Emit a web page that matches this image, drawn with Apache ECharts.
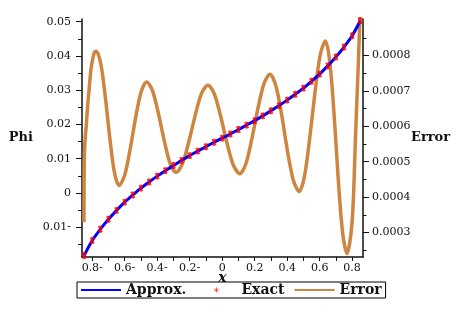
<!DOCTYPE html>
<html><head><meta charset="utf-8">
<script src="https://cdn.jsdelivr.net/npm/echarts@6/dist/echarts.min.js"></script>
<style>html,body{margin:0;padding:0;background:#fff}#c{width:468px;height:315px}</style>
</head><body><div id="c"></div>
<script>
// ---- data ----
const xValues = [-0.85,-0.80,-0.75,-0.70,-0.65,-0.60,-0.55,-0.50,-0.45,-0.40,-0.35,-0.30,-0.25,-0.20,-0.15,-0.10,-0.05,0,
  0.05,0.10,0.15,0.20,0.25,0.30,0.35,0.40,0.45,0.50,0.55,0.60,0.65,0.70,0.75,0.80,0.85];
const phiApprox = [-0.0183,-0.0139,-0.0106,-0.0077,-0.0051,-0.0027,-0.0006,0.0014,0.0032,0.0049,0.0065,0.0080,0.0095,0.0109,0.0122,0.0135,0.0148,0.0160,
  0.0172,0.0185,0.0198,0.0211,0.0225,0.0240,0.0255,0.0271,0.0288,0.0306,0.0326,0.0347,0.0371,0.0397,0.0426,0.0459,0.0503];
const phiExact = [-0.0183,-0.0139,-0.0106,-0.0077,-0.0051,-0.0027,-0.0006,0.0014,0.0032,0.0049,0.0065,0.0080,0.0095,0.0109,0.0122,0.0135,0.0148,0.0160,
  0.0172,0.0185,0.0198,0.0211,0.0225,0.0240,0.0255,0.0271,0.0288,0.0306,0.0326,0.0347,0.0371,0.0397,0.0426,0.0459,0.0503];
const errorX = [-0.851,-0.85,-0.848,-0.843,-0.837,-0.828,-0.82,-0.808,-0.795,-0.785,-0.775,
  -0.747,-0.719,-0.691,-0.663,-0.635,
  -0.601,-0.567,-0.533,-0.499,-0.465,
  -0.429,-0.393,-0.356,-0.320,-0.284,
  -0.245,-0.206,-0.166,-0.127,-0.088,
  -0.049,-0.010,0.030,0.069,0.108,
  0.145,0.182,0.220,0.257,0.294,
  0.330,0.366,0.402,0.438,0.474,
  0.506,0.538,0.571,0.603,0.635,
  0.662,0.689,0.715,0.742,0.769,
  0.785,0.80,0.81,0.82,0.83,0.84,0.85];
const errorY = [0.00033,0.00045,0.00052,0.00057,0.0006,0.00066,0.0007,0.00076,0.000795,0.00081,0.000812,
  0.000776,0.000681,0.000564,0.000469,0.000433,
  0.000461,0.000534,0.000624,0.000697,0.000725,
  0.000701,0.000637,0.000558,0.000494,0.00047,
  0.000494,0.000555,0.000631,0.000693,0.000716,
  0.000692,0.00063,0.000552,0.00049,0.000466,
  0.000493,0.000563,0.00065,0.00072,0.000747,
  0.000715,0.000633,0.00053,0.000448,0.000416,
  0.000457,0.000563,0.000694,0.0008,0.000841,
  0.000784,0.000634,0.000448,0.000298,0.000241,
  0.00027,0.00033,0.00042,0.00056,0.00068,0.0008,0.00094];

const xTicks = [-0.8,-0.7,-0.6,-0.5,-0.4,-0.3,-0.2,-0.1,0,0.1,0.2,0.3,0.4,0.5,0.6,0.7,0.8];
const xLabelValues = [-0.8,-0.6,-0.4,-0.2,0,0.2,0.4,0.6,0.8];
const xLabels = ['0.8-','0.6-','0.4-','0.2-','0','0.2','0.4','0.6','0.8'];
const phiTicks = [-0.01,0,0.01,0.02,0.03,0.04,0.05];
const phiLabels = ['0.01-','0','0.01','0.02','0.03','0.04','0.05'];
const phiMinorTicks = [-0.015,-0.005,0.005,0.015,0.025,0.035,0.045];
const errTicks = [0.0003,0.0004,0.0005,0.0006,0.0007,0.0008];
const errLabels = ['0.0003','0.0004','0.0005','0.0006','0.0007','0.0008'];
const errMinorTicks = [0.00025,0.00035,0.00045,0.00055,0.00065,0.00075,0.00085];

// ---- chart ----
function lab(values, labels) {
  return function (v) {
    for (let i = 0; i < values.length; i++) if (Math.abs(values[i] - v) < 1e-9) return labels[i];
    return '';
  };
}
const starArms = 'M-0.25,-1 L-0.25,1 L0.25,1 L0.25,-1 Z M0.28,1.0 L0.72,0.75 L-0.28,-1.0 L-0.72,-0.75 Z M0.72,-0.75 L0.28,-1.0 L-0.72,0.75 L-0.28,1.0 Z';
const asterisk = 'path://M-2.6,-2.6 M2.6,2.6 ' + starArms;
const asteriskLegend = 'path://M0,0 M40,12 M19.6,3.5 L19.6,8.5 L20.4,8.5 L20.4,3.5 Z M21.965,7.596 L22.365,6.904 L18.035,4.404 L17.635,5.096 Z M22.365,5.096 L21.965,4.404 L17.635,6.904 L18.035,7.596 Z';
const lineLegend = 'path://M0,0 M40,12 M0,5 L40,5 L40,7 L0,7 Z';
const X_MIN = -0.863, X_MAX = 0.867;
const P_MIN = -0.01872, P_MAX = 0.0508;
const E_MIN = 0.000231, E_MAX = 0.000903;
const serif = 'DejaVu Serif';
const tickLabel = { fontFamily: serif, fontSize: 11, color: '#111' };
const axisLine = { show: true, onZero: false, lineStyle: { color: '#111', width: 1.5 } };
const legendText = { fontFamily: serif, fontWeight: 'bold', fontSize: 14, color: '#111' };

const chart = echarts.init(document.getElementById('c'), null, { renderer: 'canvas' });
chart.setOption({
  animation: false,
  backgroundColor: '#fff',
  grid: { left: 82, right: 105, top: 19, bottom: 58, containLabel: false },
  legend: {
    data: [
      { name: 'Approx.', icon: lineLegend, textStyle: Object.assign({ width: 65 }, legendText) },
      { name: 'Exact', icon: asteriskLegend, textStyle: Object.assign({ width: 41 }, legendText) },
      { name: 'Error', icon: lineLegend, textStyle: Object.assign({ width: 42 }, legendText) }
    ],
    left: 77, top: 282,
    itemWidth: 40, itemHeight: 12, itemGap: 10,
    padding: [1, 4, 1, 4],
    borderColor: '#000', borderWidth: 1,
    textStyle: legendText
  },
  xAxis: {
    type: 'value', min: X_MIN, max: X_MAX,
    name: 'x', nameLocation: 'middle', nameGap: 14, nameMoveOverlap: false,
    nameTextStyle: { fontFamily: serif, fontWeight: 'bold', fontStyle: 'italic', fontSize: 14, color: '#111' },
    axisLine: axisLine,
    axisTick: { show: true, length: 4, customValues: xTicks, lineStyle: { color: '#111' } },
    axisLabel: Object.assign({ customValues: xLabelValues, formatter: lab(xLabelValues, xLabels), margin: 6 }, tickLabel),
    splitLine: { show: false }
  },
  yAxis: [
    {
      type: 'value', min: P_MIN, max: P_MAX, position: 'left',
      name: 'Phi', nameLocation: 'middle', nameRotate: 0, nameGap: 49, nameMoveOverlap: false,
      nameTextStyle: { fontFamily: serif, fontWeight: 'bold', fontSize: 13, color: '#111' },
      axisLine: axisLine,
      axisTick: { show: true, length: 6, customValues: phiTicks, lineStyle: { color: '#111' } },
      axisLabel: Object.assign({ customValues: phiTicks, formatter: lab(phiTicks, phiLabels), margin: 11 }, tickLabel),
      splitLine: { show: false }
    },
    {
      type: 'value', min: E_MIN, max: E_MAX, position: 'right',
      name: 'Error', nameLocation: 'middle', nameRotate: 0, nameGap: 48, nameMoveOverlap: false,
      nameTextStyle: { fontFamily: serif, fontWeight: 'bold', fontSize: 13, color: '#111' },
      axisLine: axisLine,
      axisTick: { show: true, length: 6, customValues: errTicks, lineStyle: { color: '#111' } },
      axisLabel: Object.assign({ customValues: errTicks, formatter: lab(errTicks, errLabels), margin: 9 }, tickLabel),
      splitLine: { show: false }
    },
    {
      type: 'value', min: P_MIN, max: P_MAX, position: 'left', offset: 0,
      axisLine: { show: false, onZero: false },
      axisTick: { show: true, length: 4, customValues: phiMinorTicks, lineStyle: { color: '#111' } },
      axisLabel: { show: false }, splitLine: { show: false }
    },
    {
      type: 'value', min: E_MIN, max: E_MAX, position: 'right', offset: 0,
      axisLine: { show: false, onZero: false },
      axisTick: { show: true, length: 3.5, customValues: errMinorTicks, lineStyle: { color: '#111' } },
      axisLabel: { show: false }, splitLine: { show: false }
    }
  ],
  series: [
    {
      name: 'Error', type: 'line', yAxisIndex: 1, symbol: 'none', smooth: 0.3,
      data: errorX.map((x, i) => [x, errorY[i]]),
      lineStyle: { color: '#CD853F', width: 3.5 }, itemStyle: { color: '#CD853F' }, z: 2
    },
    {
      name: 'Approx.', type: 'line', yAxisIndex: 0, symbol: 'none', smooth: 0.3,
      data: xValues.map((x, i) => [x, phiApprox[i]]),
      lineStyle: { color: '#0000FF', width: 3 }, itemStyle: { color: '#0000FF' }, z: 3
    },
    {
      name: 'Exact', type: 'scatter', yAxisIndex: 0,
      data: xValues.map((x, i) => [x, phiExact[i]]),
      symbol: asterisk, symbolSize: 18, symbolKeepAspect: true,
      itemStyle: { color: '#FF0000' }, z: 4
    }
  ]
});
</script>
</body></html>
